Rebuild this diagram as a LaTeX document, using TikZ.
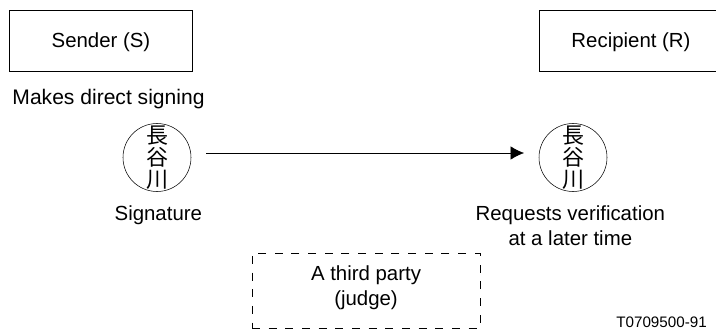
\documentclass[tikz,border=0pt]{standalone}
\usepackage{fontspec}
\setmainfont{Liberation Sans}
\newfontfamily\cjkfont{Noto Sans CJK JP}
\usetikzlibrary{arrows.meta, positioning}

\begin{document}
\begin{tikzpicture}[
        x=0.75pt, y=-0.75pt,
        party/.style={rectangle, draw, minimum width=137pt, minimum height=45.5pt, inner sep=0pt, text depth=0pt, font=\fontsize{15.3}{18}\selectfont},
        seal/.style={circle, draw, minimum size=51pt, inner sep=0pt},
        sealtext/.style={align=center, inner sep=0pt, font=\cjkfont\fontsize{16.5}{16.5}\selectfont},
        caption/.style={align=center, inner sep=0pt, font=\fontsize{15.3}{19}\selectfont},
        judge/.style={rectangle, draw, dashed, dash pattern=on 6pt off 6.5pt, minimum width=171pt, minimum height=56pt, inner sep=0pt},
        line/.style={-{Latex[length=10pt, width=10pt]}}
    ]
        \useasboundingbox (0,0) rectangle (716,332);

        % Sender side
        \node[party] (sender) at (101,40.5) {Sender (S)};
        \node[caption, font=\fontsize{15.8}{19}\selectfont] (makes) at (108.5,99) {Makes direct signing};
        \node[seal, label={[sealtext]center:長\\谷\\川}] (sealS) at (157,157.5) {};
        \node[caption, below=10pt of sealS, xshift=1pt] (signature) {Signature};

        % Recipient side
        \node[party] (recipient) at (631,40.5) {Recipient (R)};
        \node[seal, label={[sealtext]center:長\\谷\\川}] (sealR) at (573,157.5) {};
        \node[caption, below=10pt of sealR, xshift=-2pt] (requests) {Requests verification\\at a later time};

        \coordinate (start) at (206,153);
        \coordinate (stop) at (524,153);
        \draw[line] (start) -- (stop);

        % Third party
        \node[judge, label={[caption, yshift=2pt]center:A third party\\(judge)}] (third) at (366,290.5) {};
        \node[anchor=east, inner sep=0pt, font=\fontsize{11.4}{13}\selectfont] (ref) at (707,322) {T0709500-91};
    \end{tikzpicture}
\end{document}
